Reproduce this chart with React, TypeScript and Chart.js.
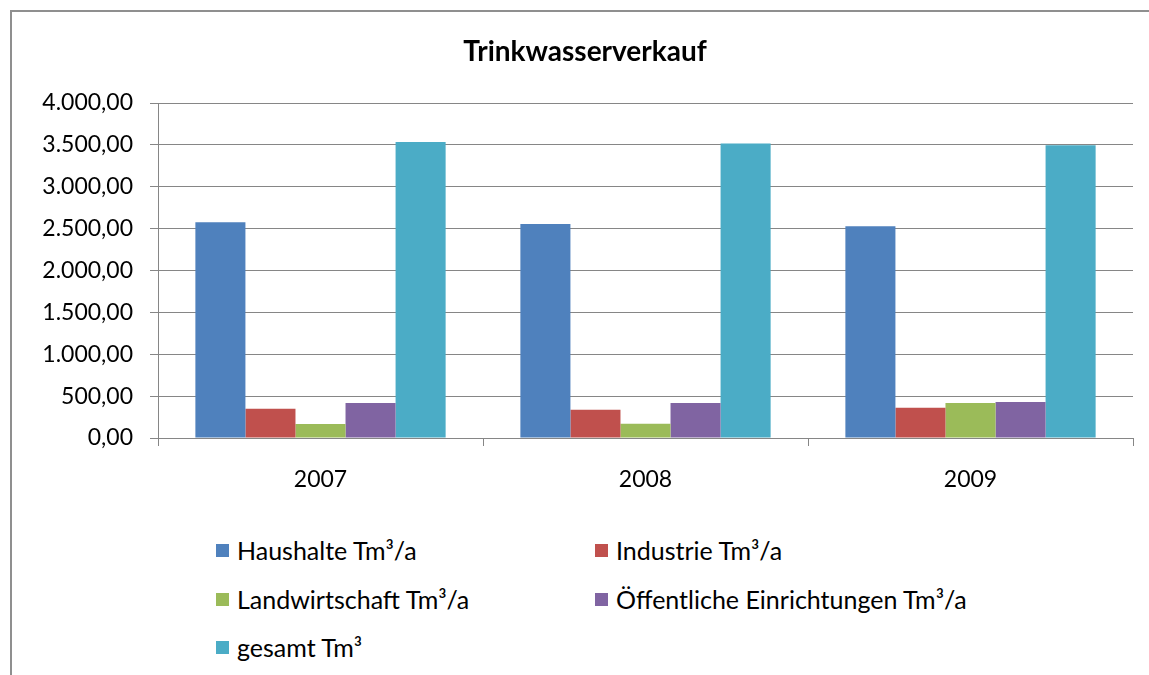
import React, { useEffect, useRef } from 'react';
import { Chart, registerables } from 'chart.js';

Chart.register(...registerables);

const chartTitle = 'Trinkwasserverkauf';
const categories = ['2007', '2008', '2009'];
const seriesLabels = [
  'Haushalte Tm³/a',
  'Industrie Tm³/a',
  'Landwirtschaft Tm³/a',
  'Öffentliche Einrichtungen Tm³/a',
  'gesamt Tm³',
];
const haushalte = [2575, 2555, 2527];
const industrie = [349, 337, 361];
const landwirtschaft = [167, 170, 417];
const oeffentlich = [417, 417, 429];
const gesamt = [3533, 3517, 3497];
const seriesColors = ['#4F81BD', '#C0504D', '#9BBB59', '#8064A2', '#4BACC6'];
const yMin = 0;
const yMax = 4000;
const yStep = 500;

const FONT = 'Lato, "Open Sans", "Liberation Sans", sans-serif';
const GRID = '#868686';

function fmtDe(v: number): string {
  const fixed = v.toFixed(2);
  const [i, d] = fixed.split('.');
  return i.replace(/\B(?=(\d{3})+(?!\d))/g, '.') + ',' + d;
}

export default function App() {
  const ref = useRef<HTMLCanvasElement>(null);

  useEffect(() => {
    document.body.style.margin = '0';
    const seriesData = [haushalte, industrie, landwirtschaft, oeffentlich, gesamt];
    const chart = new Chart(ref.current as HTMLCanvasElement, {
      type: 'bar',
      data: {
        labels: categories,
        datasets: seriesLabels.map((label, i) => ({
          label,
          data: seriesData[i],
          backgroundColor: seriesColors[i],
          borderWidth: 0,
          categoryPercentage: 0.77,
          barPercentage: 1,
        })),
      },
      options: {
        animation: false,
        responsive: false,
        layout: { padding: { left: 0, right: 16, top: 103, bottom: 0 } },
        plugins: {
          legend: { display: false },
          tooltip: { enabled: false },
          title: { display: false },
        },
        scales: {
          x: {
            grid: {
              display: true,
              drawOnChartArea: false,
              drawTicks: true,
              tickLength: 8,
              color: GRID,
              offset: true,
            },
            border: { color: GRID },
            ticks: { font: { family: FONT, size: 23 }, color: '#000', padding: 20 },
            afterFit: (s: any) => {
              s.height = 82;
            },
          },
          y: {
            min: yMin,
            max: yMax,
            ticks: {
              stepSize: yStep,
              callback: (v: any) => fmtDe(Number(v)),
              font: { family: FONT, size: 23 },
              color: '#000',
              padding: 17,
            },
            grid: { color: GRID, tickLength: 8 },
            border: { color: GRID },
            afterFit: (s: any) => {
              s.width = 158;
            },
          },
        },
      },
    });
    return () => chart.destroy();
  }, []);

  const legendPos = [
    { x: 216, y: 550 },
    { x: 595, y: 550 },
    { x: 216, y: 599 },
    { x: 595, y: 599 },
    { x: 216, y: 647 },
  ];

  return (
    <div
      style={{
        position: 'absolute',
        left: 0,
        top: 0,
        width: 1149,
        height: 675,
        background: '#fff',
        overflow: 'hidden',
        fontFamily: FONT,
      }}
    >
      <div
        style={{
          position: 'absolute',
          left: 10,
          top: 10,
          width: 1139,
          height: 2,
          background: '#8f8f8f',
        }}
      />
      <div
        style={{
          position: 'absolute',
          left: 10,
          top: 10,
          width: 2,
          height: 665,
          background: '#8f8f8f',
        }}
      />
      <canvas
        ref={ref}
        width={1149}
        height={520}
        style={{ position: 'absolute', left: 0, top: 0, width: 1149, height: 520 }}
      />
      <div
        style={{
          position: 'absolute',
          left: 335,
          width: 500,
          top: 34,
          textAlign: 'center',
          fontWeight: 'bold',
          fontSize: 28,
          lineHeight: '32px',
          color: '#000',
        }}
      >
        {chartTitle}
      </div>
      {seriesLabels.map((label, i) => (
        <div
          key={label}
          style={{
            position: 'absolute',
            left: legendPos[i].x,
            top: legendPos[i].y - 15,
            height: 30,
            display: 'flex',
            alignItems: 'center',
            whiteSpace: 'nowrap',
            fontSize: 25,
            color: '#000',
          }}
        >
          <span
            style={{
              display: 'inline-block',
              width: 13,
              height: 13,
              background: seriesColors[i],
              marginRight: 8,
            }}
          />
          <span>{label}</span>
        </div>
      ))}
    </div>
  );
}
